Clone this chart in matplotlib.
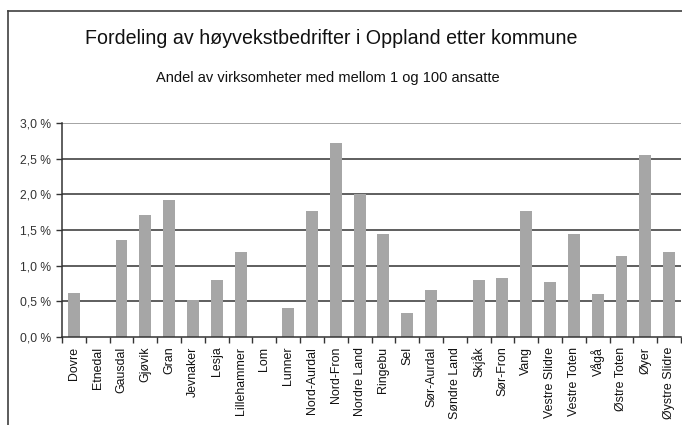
import matplotlib
matplotlib.use("Agg")
import matplotlib.pyplot as plt
from matplotlib.lines import Line2D
import numpy as np

plt.rcParams['font.family'] = ['Liberation Sans', 'DejaVu Sans']

# Kommuner og andel høyvekstbedrifter (prosent)
kommuner = ['Dovre', 'Etnedal', 'Gausdal', 'Gjøvik', 'Gran', 'Jevnaker', 'Lesja',
            'Lillehammer', 'Lom', 'Lunner', 'Nord-Aurdal', 'Nord-Fron', 'Nordre Land',
            'Ringebu', 'Sel', 'Sør-Aurdal', 'Søndre Land', 'Skjåk', 'Sør-Fron', 'Vang',
            'Vestre Slidre', 'Vestre Toten', 'Vågå', 'Østre Toten', 'Øyer', 'Øystre Slidre']
andel = [0.62, 0.0, 1.36, 1.71, 1.92, 0.52, 0.80,
         1.19, 0.0, 0.41, 1.76, 2.72, 2.00,
         1.44, 0.34, 0.66, 0.0, 0.80, 0.83, 1.76,
         0.77, 1.44, 0.60, 1.13, 2.55, 1.19]
y_ticks = [0.0, 0.5, 1.0, 1.5, 2.0, 2.5, 3.0]
y_labels = ['0,0 %', '0,5 %', '1,0 %', '1,5 %', '2,0 %', '2,5 %', '3,0 %']

W, H = 682, 425
fig = plt.figure(figsize=(W / 100, H / 100), dpi=100)

# Ramme rundt diagrammet (beskåret til høyre og nederst)
fig.add_artist(Line2D([7.5 / W, 7.5 / W], [0, 1 - 10.5 / H], transform=fig.transFigure,
                      color='#404040', lw=1.2))
fig.add_artist(Line2D([7.5 / W, 1], [1 - 10.5 / H, 1 - 10.5 / H], transform=fig.transFigure,
                      color='#404040', lw=1.2))

ax = fig.add_axes([62 / W, 88 / H, 619 / W, 214 / H])
x = np.arange(len(kommuner))
ax.bar(x, andel, width=0.5, color='#a6a6a6', zorder=2)

ax.set_xlim(-0.5, len(kommuner) - 0.5)
ax.set_ylim(0, 3.0)

for v in y_ticks[1:-1]:
    ax.axhline(v, color='#333333', lw=1.1, zorder=1)
ax.axhline(3.0, color='#8c8c8c', lw=1.1, zorder=1)

ax.set_yticks(y_ticks)
ax.set_yticklabels(y_labels, fontsize=8.7, color='#333333')
ax.tick_params(axis='y', length=4, width=1, color='#333333', pad=4)

ax.set_xticks(x)
ax.set_xticklabels(kommuner, rotation=90, fontsize=8.9, color='#111111')
ax.tick_params(axis='x', which='major', length=0, pad=7)
ax.set_xticks(np.arange(len(kommuner) + 1) - 0.5, minor=True)
ax.tick_params(axis='x', which='minor', length=4, width=1, color='#333333')

for s in ['top', 'right']:
    ax.spines[s].set_visible(False)
ax.spines['left'].set_color('#333333')
ax.spines['bottom'].set_color('#333333')
ax.spines['left'].set_linewidth(1.1)
ax.spines['bottom'].set_linewidth(1.1)

fig.text(331 / W, 1 - 38 / H, 'Fordeling av høyvekstbedrifter i Oppland etter kommune',
         ha='center', va='center', fontsize=14.1, color='#111111')
fig.text(328 / W, 1 - 78 / H, 'Andel av virksomheter med mellom 1 og 100 ansatte',
         ha='center', va='center', fontsize=10.5, color='#111111')

fig.savefig('out.png', dpi=100)
